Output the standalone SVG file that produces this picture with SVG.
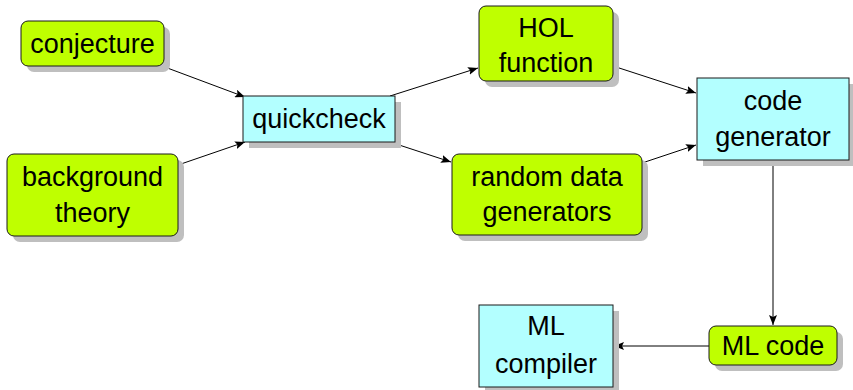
<svg xmlns="http://www.w3.org/2000/svg" width="853" height="390" viewBox="0 0 853 390">
<style>
.g{fill:#bfff00;stroke:#1a1a1a;stroke-width:1}
.c{fill:#b3ffff;stroke:#1a1a1a;stroke-width:1}
.s{fill:#bfbfbf;stroke:none}
text{font-family:"Liberation Sans",Arial,sans-serif;font-size:27px;fill:#000;text-anchor:middle}
.e{stroke:#000;stroke-width:1;fill:none;marker-end:url(#ah)}
</style>
<defs>
<marker id="ah" viewBox="0 0 10 8" refX="10" refY="4" markerWidth="10" markerHeight="8" markerUnits="userSpaceOnUse" orient="auto">
<path d="M0,0 L10,4 L0,8 L2,4 Z" fill="#000"/>
</marker>
</defs>
<rect width="853" height="390" fill="#fff"/>
<g id="connectors">
<line class="e" x1="162" y1="66" x2="245" y2="97"/>
<line class="e" x1="178" y1="165" x2="245" y2="142"/>
<line class="e" x1="390" y1="96" x2="478" y2="68"/>
<line class="e" x1="390" y1="142" x2="451" y2="162"/>
<line class="e" x1="613" y1="66" x2="696" y2="93"/>
<line class="e" x1="642" y1="163" x2="696" y2="145"/>
<line class="e" x1="773" y1="160" x2="773" y2="325"/>
<line class="e" x1="709" y1="346" x2="614" y2="346"/>
</g>
<g id="conjecture">
<rect class="s" x="27" y="27" width="143" height="45" rx="7"/>
<rect class="g" x="21" y="21" width="143" height="45" rx="7"/>
<text x="92.5" y="53">conjecture</text>
</g>
<g id="background">
<rect class="s" x="13" y="160" width="171" height="82" rx="7"/>
<rect class="g" x="7" y="154" width="171" height="82" rx="7"/>
<text x="92.5" y="186">background</text>
<text x="92.5" y="222">theory</text>
</g>
<g id="quickcheck">
<rect class="s" x="249" y="102" width="152" height="46"/>
<rect class="c" x="243" y="96" width="152" height="46"/>
<text x="319" y="128">quickcheck</text>
</g>
<g id="hol">
<rect class="s" x="485" y="12" width="134" height="75" rx="7"/>
<rect class="g" x="479" y="6" width="134" height="75" rx="7"/>
<text x="546" y="37">HOL</text>
<text x="546" y="72">function</text>
</g>
<g id="random">
<rect class="s" x="458" y="160" width="190" height="81" rx="7"/>
<rect class="g" x="452" y="154" width="190" height="81" rx="7"/>
<text x="547" y="186">random data</text>
<text x="547" y="221">generators</text>
</g>
<g id="codegen">
<rect class="s" x="703" y="84" width="152" height="82"/>
<rect class="c" x="697" y="78" width="152" height="82"/>
<text x="773" y="110">code</text>
<text x="773" y="146">generator</text>
</g>
<g id="mlcode">
<rect class="s" x="715" y="332" width="128" height="39" rx="7"/>
<rect class="g" x="709" y="326" width="128" height="39" rx="7"/>
<text x="773" y="355">ML code</text>
</g>
<g id="mlcompiler">
<rect class="s" x="485" y="311" width="134" height="82"/>
<rect class="c" x="479" y="305" width="134" height="82"/>
<text x="546" y="335">ML</text>
<text x="546" y="373">compiler</text>
</g>
</svg>
